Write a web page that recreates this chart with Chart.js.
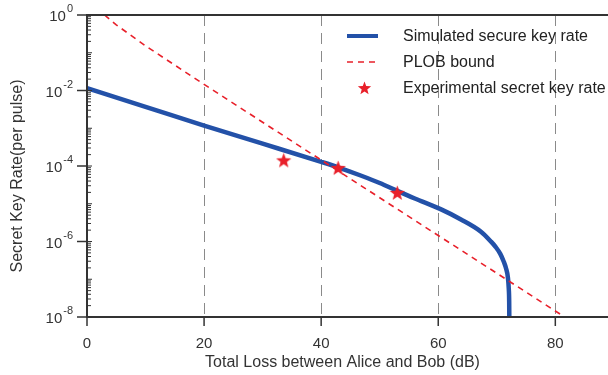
<!DOCTYPE html>
<html>
<head>
<meta charset="utf-8">
<script src="https://cdn.jsdelivr.net/npm/chart.js@4/dist/chart.umd.min.js"></script>
<style>
  html, body { margin: 0; padding: 0; background: #fff; }
</style>
</head>
<body>
<canvas id="myChart" width="608" height="375"></canvas>
<script>
(() => {
  'use strict'

  // simulated secure key rate (loss in dB, rate per pulse)
  const perdaSim = [0, 10, 20, 30, 40, 43, 46.75, 50, 53, 56, 60.4, 63.8, 67.3, 69.0, 69.8, 70.6, 71.2, 71.6, 71.9, 72.05, 72.12, 72.15]
  const taxaSim = [1.15e-2, 3.7e-3, 1.17e-3, 3.9e-4, 1.29e-4, 9.1e-5, 5.6e-5, 3.55e-5, 2.2e-5, 1.38e-5, 7.2e-6, 3.9e-6, 1.82e-6, 1.0e-6, 7.2e-7, 4.7e-7, 2.9e-7, 1.9e-7, 1.12e-7, 5.6e-8, 2.5e-8, 6.3e-9]

  // PLOB bound
  const perdaPlob = [3, 5, 10, 20, 30, 40, 50, 60, 70, 80, 82]
  const taxaPlob = [1.0, 0.548, 0.152, 1.45e-2, 1.443e-3, 1.443e-4, 1.443e-5, 1.443e-6, 1.443e-7, 1.443e-8, 9.1e-9]

  // experimental points
  const perdaExp = [33.6, 42.9, 53.0]
  const taxaExp = [1.45e-4, 9.1e-5, 2.0e-5]

  const ticksX = [0, 20, 40, 60, 80]
  const gradeX = [20, 40, 60, 80]
  const ticksY = [1, 1e-2, 1e-4, 1e-6, 1e-8]
  const expoentesY = ['0', '-2', '-4', '-6', '-8']

  const rotulos = ['Simulated secure key rate', 'PLOB bound', 'Experimental secret key rate']
  const tituloX = 'Total Loss between Alice and Bob (dB)'
  const tituloY = 'Secret Key Rate(per pulse)'

  const azul = '#2351a8'
  const vermelho = '#e8202a'
  const cinzaTexto = '#333'
  const fonte = '"Liberation Sans", Arial, sans-serif'

  function criarEstrela(tam, cor) {
    const c = document.createElement('canvas')
    c.width = tam
    c.height = tam
    const g = c.getContext('2d')
    const r1 = tam / 2 - 0.5
    const r2 = r1 * 0.42
    g.beginPath()
    for (let i = 0; i < 10; i++) {
      const r = i % 2 === 0 ? r1 : r2
      const a = -Math.PI / 2 + i * Math.PI / 5
      const px = tam / 2 + r * Math.cos(a)
      const py = tam / 2 + 1 + r * Math.sin(a)
      if (i === 0) g.moveTo(px, py)
      else g.lineTo(px, py)
    }
    g.closePath()
    g.fillStyle = cor
    g.fill()
    return c
  }

  const estrela = criarEstrela(17, vermelho)
  const estrelaLegenda = criarEstrela(15, vermelho)

  const eixos = {
    id: 'eixos',
    beforeDatasetsDraw(chart) {
      const { ctx, chartArea: a, scales: { x } } = chart
      ctx.save()
      ctx.strokeStyle = '#8a8a8a'
      ctx.lineWidth = 1
      ctx.setLineDash([11, 7])
      gradeX.forEach(v => {
        const px = Math.round(x.getPixelForValue(v)) + 0.5
        ctx.beginPath()
        ctx.moveTo(px, a.top)
        ctx.lineTo(px, a.bottom)
        ctx.stroke()
      })
      ctx.restore()
    },
    afterDatasetsDraw(chart) {
      const { ctx, chartArea: a, scales: { x, y } } = chart
      ctx.save()
      ctx.strokeStyle = '#333'
      ctx.lineWidth = 2
      ctx.setLineDash([])
      ctx.beginPath()
      ctx.moveTo(a.right, a.top)
      ctx.lineTo(a.left, a.top)
      ctx.lineTo(a.left, a.bottom)
      ctx.lineTo(a.right, a.bottom)
      ctx.stroke()

      // ticks
      ctx.lineWidth = 1.5
      ticksX.forEach(v => {
        const px = x.getPixelForValue(v)
        ctx.beginPath()
        ctx.moveTo(px, a.bottom)
        ctx.lineTo(px, a.bottom + 9)
        ctx.stroke()
      })
      ticksY.forEach(v => {
        const py = y.getPixelForValue(v)
        ctx.beginPath()
        ctx.moveTo(a.left - 10, py)
        ctx.lineTo(a.left, py)
        ctx.stroke()
      })
      ctx.lineWidth = 1
      for (let d = -8; d < 0; d++) {
        for (let m = 1; m <= 9; m++) {
          const py = y.getPixelForValue(m * Math.pow(10, d))
          ctx.beginPath()
          ctx.moveTo(a.left, py)
          ctx.lineTo(a.left + (m === 1 ? 5 : 4), py)
          ctx.stroke()
        }
      }

      // tick labels
      ctx.fillStyle = cinzaTexto
      ctx.textBaseline = 'middle'
      ctx.font = '15px ' + fonte
      ctx.textAlign = 'center'
      ticksX.forEach(v => {
        ctx.fillText(String(v), x.getPixelForValue(v), a.bottom + 27)
      })
      ticksY.forEach((v, i) => {
        const py = y.getPixelForValue(v)
        ctx.font = '11px ' + fonte
        ctx.textAlign = 'left'
        const we = ctx.measureText(expoentesY[i]).width
        ctx.fillText(expoentesY[i], 73 - we, py - 6)
        ctx.font = '15px ' + fonte
        ctx.textAlign = 'right'
        ctx.fillText('10', 73 - we - 1, py + 2)
      })

      // axis titles
      ctx.textAlign = 'center'
      ctx.font = '16px ' + fonte
      ctx.fillText(tituloX, 342.5, 363)
      ctx.save()
      ctx.translate(18, 176)
      ctx.rotate(-Math.PI / 2)
      ctx.fillText(tituloY, 0, 0)
      ctx.restore()

      // legend
      ctx.textAlign = 'left'
      ctx.fillStyle = '#222'
      ctx.fillText(rotulos[0], 403, 37)
      ctx.fillText(rotulos[1], 403, 63)
      ctx.fillText(rotulos[2], 403, 89)
      ctx.strokeStyle = azul
      ctx.lineWidth = 4
      ctx.beginPath()
      ctx.moveTo(347, 36)
      ctx.lineTo(378, 36)
      ctx.stroke()
      ctx.strokeStyle = vermelho
      ctx.lineWidth = 1.5
      ctx.setLineDash([6, 5])
      ctx.beginPath()
      ctx.moveTo(347, 62)
      ctx.lineTo(380, 62)
      ctx.stroke()
      ctx.drawImage(estrelaLegenda, 357, 80)
      ctx.restore()
    }
  }

  new Chart(document.getElementById('myChart'), {
    type: 'line',
    data: {
      datasets: [
        {
          label: rotulos[2],
          data: perdaExp.map((v, i) => ({ x: v, y: taxaExp[i] })),
          showLine: false,
          pointStyle: estrela,
          pointRadius: 8,
          order: 0
        },
        {
          label: rotulos[1],
          data: perdaPlob.map((v, i) => ({ x: v, y: taxaPlob[i] })),
          borderColor: vermelho,
          borderWidth: 1.6,
          borderDash: [6, 5],
          pointRadius: 0,
          fill: false,
          tension: 0,
          order: 1
        },
        {
          label: rotulos[0],
          data: perdaSim.map((v, i) => ({ x: v, y: taxaSim[i] })),
          borderColor: azul,
          borderWidth: 4.5,
          borderJoinStyle: 'round',
          pointRadius: 0,
          fill: false,
          cubicInterpolationMode: 'monotone',
          order: 2
        }
      ]
    },
    options: {
      responsive: false,
      animation: false,
      devicePixelRatio: 1,
      layout: { autoPadding: false, padding: { left: 87, top: 15, right: 0, bottom: 58 } },
      plugins: {
        legend: { display: false },
        tooltip: { enabled: false }
      },
      scales: {
        x: { type: 'linear', min: 0, max: 89, display: false },
        y: { type: 'logarithmic', min: 1e-8, max: 1, display: false }
      }
    },
    plugins: [eixos]
  })
})()
</script>
</body>
</html>
